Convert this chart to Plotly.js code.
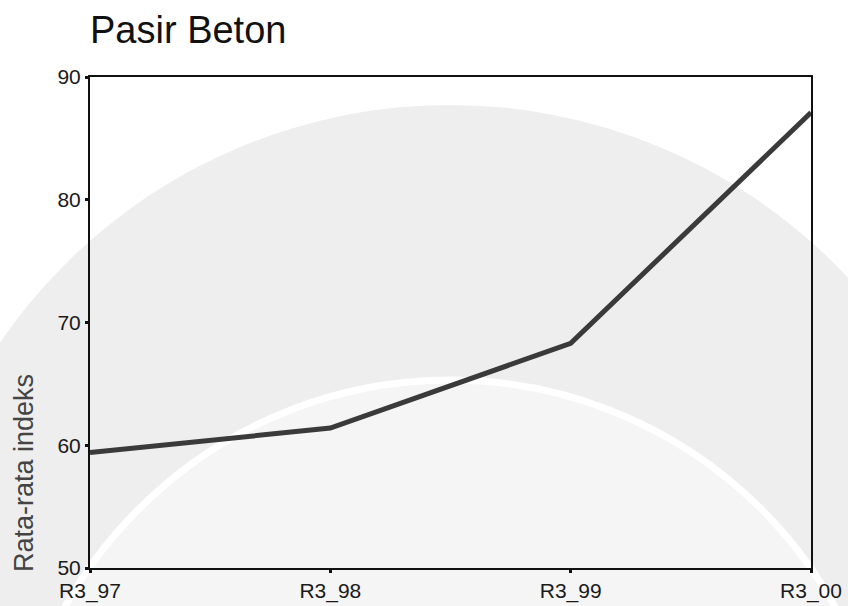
<!DOCTYPE html>
<html>
<head>
<meta charset="utf-8">
<script src="https://cdn.plot.ly/plotly-3.0.1.min.js"></script>
<style>html,body{margin:0;padding:0;background:#fff;}#chart{width:848px;height:606px;}</style>
</head>
<body>
<div id="chart"></div>
<script>
// Data
const categories = ["R3_97", "R3_98", "R3_99", "R3_00"];
const values = [59.4, 61.4, 68.3, 87.1];
const yTicks = [50, 60, 70, 80, 90];
const chartTitle = "Pasir Beton";
const yTitle = "Rata-rata indeks";

const trace = {
  x: categories,
  y: values,
  type: "scatter",
  mode: "lines",
  line: {color: "#3a3a3a", width: 5},
  hoverinfo: "x+y",
  showlegend: false
};

// helper: pixel -> paper coordinates (plot area: x 90..811, y 77..568)
const L = 90, R = 811, T = 77, B = 568;
const px = v => (v - L) / (R - L);
const py = v => (B - v) / (B - T);

const layout = {
  width: 848,
  height: 606,
  margin: {l: L, r: 848 - R, t: T, b: 606 - B, pad: 0},
  paper_bgcolor: "#ffffff",
  plot_bgcolor: "rgba(0,0,0,0)",
  font: {family: "Liberation Sans, Arial, sans-serif", color: "#111"},
  title: {
    text: chartTitle,
    font: {size: 38, color: "#111", family: "Liberation Sans, Arial, sans-serif"},
    x: 90 / 848, xanchor: "left", xref: "container",
    y: 1 - 30 / 606, yanchor: "middle", yref: "container"
  },
  xaxis: {
    type: "category",
    range: [0, categories.length - 1],
    showgrid: false,
    zeroline: false,
    showline: true,
    linecolor: "#111",
    linewidth: 2,
    mirror: true,
    ticks: "outside",
    ticklen: 3,
    tickwidth: 3,
    tickcolor: "#111",
    tickfont: {size: 21, color: "#1a1a1a"},
    fixedrange: true
  },
  yaxis: {
    range: [50, 90],
    tickvals: yTicks,
    ticktext: yTicks.map(String),
    showgrid: false,
    zeroline: false,
    showline: true,
    linecolor: "#111",
    linewidth: 2,
    mirror: true,
    ticks: "outside",
    ticklen: 3,
    tickwidth: 3,
    tickcolor: "#111",
    tickfont: {size: 21, color: "#1a1a1a"},
    fixedrange: true
  },
  annotations: [
    {text: yTitle, textangle: -90, xref: "paper", yref: "paper",
     x: px(24), y: py(473), xanchor: "center", yanchor: "middle",
     showarrow: false, font: {size: 27, color: "#444"}}
  ],
  shapes: [
    {type: "circle", xref: "paper", yref: "paper", layer: "below",
     x0: px(-95), x1: px(995), y0: py(105), y1: py(1195),
     fillcolor: "#eeeeee", line: {width: 0}},
    {type: "circle", xref: "paper", yref: "paper", layer: "below",
     x0: px(10), x1: px(890), y0: py(380), y1: py(1260),
     fillcolor: "#f5f5f5", line: {color: "#ffffff", width: 7}}
  ]
};

Plotly.newPlot("chart", [trace], layout, {displayModeBar: false, staticPlot: true});
</script>
</body>
</html>
